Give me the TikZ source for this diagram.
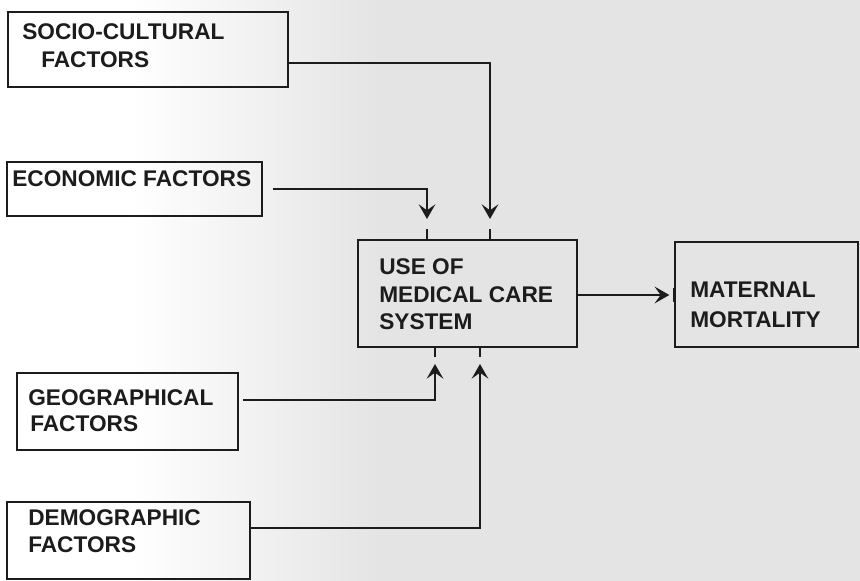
\documentclass[tikz,border=0pt]{standalone}
\usepackage{fontspec}
\setmainfont{Liberation Sans}
\usetikzlibrary{arrows.meta,fit}
\definecolor{ink}{HTML}{1C1C1C}
\definecolor{paper}{HTML}{E4E4E4}
\begin{document}
\begin{tikzpicture}[x=0.75pt,y=-0.75pt,
  box/.style={draw=ink, line width=1.5pt, inner sep=0pt},
  lbl/.style={anchor=base west, inner sep=0pt, text=ink, font=\fontsize{17}{20}\selectfont\bfseries},
  conn/.style={draw=ink, line width=1.6pt},
  tip/.style={-{Stealth[length=11pt,width=12.5pt,inset=4.5pt]}}]
\useasboundingbox (0,0) rectangle (860,581);
% scanned paper background
\fill[white] (0,0) rectangle (130,581);
\shade[left color=white,right color=paper] (130,0) rectangle (380,581);
\fill[paper] (380,0) rectangle (860,581);

% boxes
\node[box, fit={(8,12) (288,87)}] (soc) {};
\node[box, fit={(7,162) (262,216)}] (econ) {};
\node[box, fit={(358,240) (577,347)}] (use) {};
\node[box, fit={(675,242) (858,347)}] (mat) {};
\node[box, fit={(17,373) (238,450)}] (geo) {};
\node[box, fit={(7,502) (250,579)}] (demo) {};

% labels
\node[lbl] (socA) at (22,40) {SOCIO-CULTURAL};
\node[lbl] (socB) at (41,68) {FACTORS};
\node[lbl] (econA) at (12,186) {ECONOMIC FACTORS};
\node[lbl] (useA) at (379,274) {USE OF};
\node[lbl] (useB) at (379,302) {MEDICAL CARE};
\node[lbl] (useC) at (379,329) {SYSTEM};
\node[lbl] (matA) at (690,297) {MATERNAL};
\node[lbl] (matB) at (690,327) {MORTALITY};
\node[lbl] (geoA) at (28,405) {GEOGRAPHICAL};
\node[lbl] (geoB) at (30,431) {FACTORS};
\node[lbl] (demoA) at (28,525) {DEMOGRAPHIC};
\node[lbl] (demoB) at (28,552) {FACTORS};

% connectors
\draw[conn, tip, shorten >=15pt] (soc.east |- 0,63) -| (use.north -| 490,0);
\draw[conn, tip, shorten <=7.5pt, shorten >=15pt] (econ.east |- 0,189) -| (use.north -| 427,0);
\draw[conn, tip, shorten <=3pt, shorten >=12pt] (geo.east |- 0,400) -| (use.south -| 435,0);
\draw[conn, tip, shorten >=12pt] (demo.east |- 0,528) -| (use.south -| 480,0);
\draw[conn, tip, shorten >=3.5pt] (use.east |- 0,295) -- (mat.west |- 0,295);

% small ticks where the arrows meet the central boxes
\draw[conn] (use.north -| 490,0) -- ++(0,-10);
\draw[conn] (use.north -| 427,0) -- ++(0,-10);
\draw[conn] (use.south -| 435,0) -- ++(0,9);
\draw[conn] (use.south -| 480,0) -- ++(0,9);
\draw[conn] (mat.west |- 0,288) -- ++(0,14);
\end{tikzpicture}
\end{document}
